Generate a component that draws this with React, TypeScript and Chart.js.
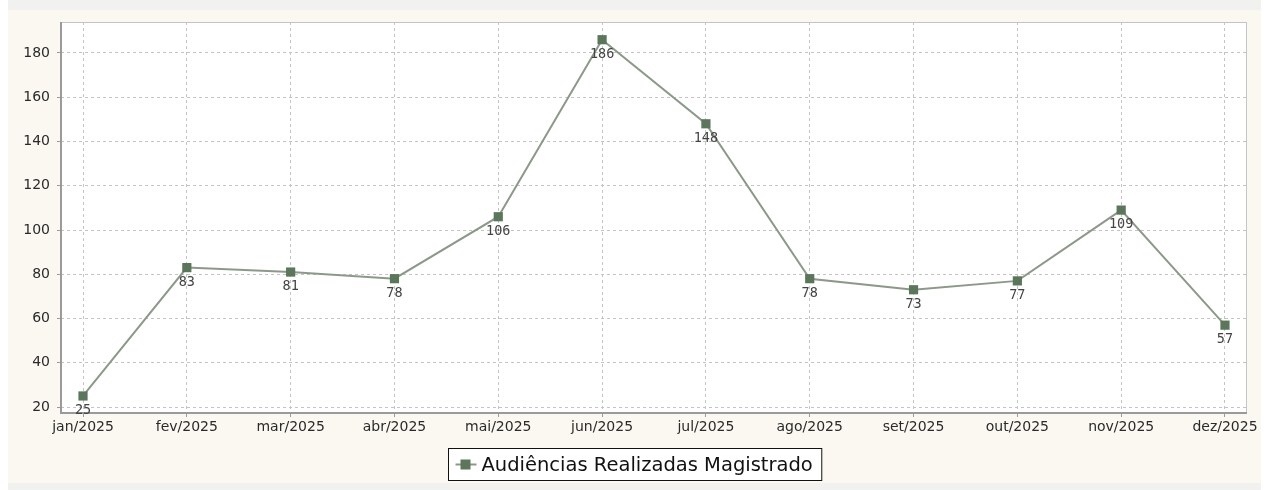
import React, { useEffect, useRef } from "react";
import { Chart, registerables } from "chart.js";

Chart.register(...registerables);

const categories = ["jan/2025", "fev/2025", "mar/2025", "abr/2025", "mai/2025", "jun/2025", "jul/2025", "ago/2025", "set/2025", "out/2025", "nov/2025", "dez/2025"];
const values = [25, 83, 81, 78, 106, 186, 148, 78, 73, 77, 109, 57];
const yTicks = [20, 40, 60, 80, 100, 120, 140, 160, 180];
const seriesName = "Audiências Realizadas Magistrado";

const W = 1269;
const H = 490;

const bgPlugin = {
  id: "bgPlugin",
  beforeDraw(chart: any) {
    const ctx = chart.ctx;
    ctx.save();
    ctx.fillStyle = "#ffffff";
    ctx.fillRect(0, 0, W, H);
    ctx.fillStyle = "#f1f1f0";
    ctx.fillRect(8, 0, 1253, H);
    ctx.fillStyle = "#faf8f1";
    ctx.fillRect(8, 10, 1253, 473);
    const a = chart.chartArea;
    ctx.fillStyle = "#ffffff";
    ctx.fillRect(a.left, a.top, a.right - a.left, a.bottom - a.top);
    ctx.restore();
  },
  afterDatasetsDraw(chart: any) {
    const ctx = chart.ctx;
    const a = chart.chartArea;
    ctx.save();
    // outline
    ctx.strokeStyle = "#c4c4c4";
    ctx.lineWidth = 1;
    ctx.strokeRect(a.left + 0.5, a.top + 0.5, a.right - a.left - 1, a.bottom - a.top - 1);
    ctx.strokeStyle = "#9a9a9a";
    ctx.lineWidth = 2;
    ctx.beginPath();
    ctx.moveTo(a.left, a.top);
    ctx.lineTo(a.left, a.bottom);
    ctx.lineTo(a.right, a.bottom);
    ctx.stroke();
    // data labels
    const meta = chart.getDatasetMeta(0);
    ctx.font = "13.5px 'DejaVu Sans Mono', monospace";
    ctx.fillStyle = "#444444";
    ctx.textAlign = "center";
    ctx.textBaseline = "top";
    meta.data.forEach((pt: any, i: number) => {
      ctx.fillText(String(values[i]), pt.x, pt.y + 8);
    });
    // legend
    ctx.font = "19.5px 'DejaVu Sans', sans-serif";
    const tw = ctx.measureText(seriesName).width;
    const boxW = tw + 42;
    const cx = W / 2;
    const bx = Math.round(cx - boxW / 2) + 0.5;
    const by = 448.5;
    const bh = 32;
    ctx.fillStyle = "#ffffff";
    ctx.fillRect(bx, by, boxW, bh);
    ctx.strokeStyle = "#111111";
    ctx.lineWidth = 1;
    ctx.strokeRect(bx, by, boxW, bh);
    const sy = by + bh / 2;
    ctx.strokeStyle = "#8c998a";
    ctx.lineWidth = 2;
    ctx.beginPath();
    ctx.moveTo(bx + 7, sy);
    ctx.lineTo(bx + 28, sy);
    ctx.stroke();
    ctx.fillStyle = "#5b765b";
    ctx.fillRect(bx + 12, sy - 5, 10, 10);
    ctx.fillStyle = "#111111";
    ctx.textAlign = "left";
    ctx.textBaseline = "middle";
    ctx.fillText(seriesName, bx + 33, sy + 1);
    ctx.restore();
  },
};

export default function App() {
  const ref = useRef<HTMLCanvasElement | null>(null);
  useEffect(() => {
    document.body.style.margin = "0";
    const canvas = ref.current!;
    const chart = new Chart(canvas, {
      type: "line",
      data: {
        datasets: [
          {
            label: seriesName,
            data: values.map((v, i) => ({ x: i, y: v })),
            borderColor: "#8c998a",
            borderWidth: 2,
            backgroundColor: "#5b765b",
            pointStyle: "rect",
            pointRadius: 6.5,
            pointBorderWidth: 0,
            pointBackgroundColor: "#5b765b",
            tension: 0,
          },
        ],
      },
      options: {
        animation: false,
        responsive: false,
        devicePixelRatio: 1,
        layout: { padding: { left: 0, top: 22, right: 22, bottom: 0 } },
        plugins: { legend: { display: false }, tooltip: { enabled: false } },
        scales: {
          x: {
            type: "linear",
            min: -0.212,
            max: 11.212,
            afterBuildTicks: (s: any) => {
              s.ticks = categories.map((_, i) => ({ value: i }));
            },
            afterFit: (s: any) => {
              s.height = 77;
            },
            ticks: {
              callback: (v: any) => categories[v] ?? "",
              color: "#2a2a2a",
              font: { family: "'DejaVu Sans', sans-serif", size: 14 },
              padding: 2,
              maxRotation: 0,
              autoSkip: false,
            },
            grid: {
              color: "#c4c4c4",
              tickColor: "#9a9a9a",
              tickLength: 4,
              lineWidth: 1,
            },
            border: { display: false, dash: [3, 3] },
          },
          y: {
            type: "linear",
            min: 17.3,
            max: 194,
            afterBuildTicks: (s: any) => {
              s.ticks = yTicks.map((v) => ({ value: v }));
            },
            afterFit: (s: any) => {
              s.width = 61;
            },
            ticks: {
              color: "#2a2a2a",
              font: { family: "'DejaVu Sans', sans-serif", size: 14 },
              padding: 7,
            },
            grid: {
              color: "#c4c4c4",
              tickColor: "#9a9a9a",
              tickLength: 4,
              lineWidth: 1,
            },
            border: { display: false, dash: [3, 3] },
          },
        },
      },
      plugins: [bgPlugin],
    } as any);
    return () => chart.destroy();
  }, []);
  return <canvas ref={ref} width={W} height={H} style={{ display: "block", width: W, height: H }} />;
}
